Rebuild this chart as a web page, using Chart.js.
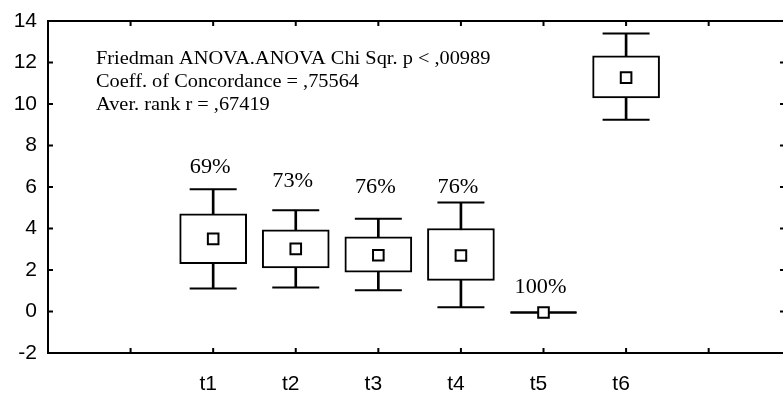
<!DOCTYPE html>
<html>
<head>
<meta charset="utf-8">
<script src="https://cdn.jsdelivr.net/npm/chart.js@4"></script>
<style>
  html, body { margin: 0; padding: 0; background: #fff; }
  canvas { display: block; }
</style>
</head>
<body>
<canvas id="boxChart" width="784" height="393"></canvas>
<script>
// groups and where they sit on the x axis (slot 0 = left axis, slot 1 empty)
const categories = ['t1', 't2', 't3', 't4', 't5', 't6'];
const slots = [2, 3, 4, 5, 6, 7];

// box plot values
const whiskerLow  = [1.11, 1.16, 1.02, 0.21, -0.05, 9.24];
const boxLow      = [2.31, 2.10, 1.89, 1.50, -0.05, 10.29];
const centers     = [3.50, 3.02, 2.71, 2.70, -0.05, 11.27];
const boxHigh     = [4.71, 3.94, 3.60, 4.00, -0.05, 12.32];
const whiskerHigh = [5.89, 4.88, 4.47, 5.25, -0.05, 13.40];

// percentages printed above the boxes
const pctLabels = ['69%', '73%', '76%', '76%', '100%', ''];
const pctY      = [6.95, 6.28, 5.98, 5.99, 1.15, null];

const yTicks = [-2, 0, 2, 4, 6, 8, 10, 12, 14];
const statLines = [
    'Friedman ANOVA.ANOVA Chi Sqr. p < ,00989',
    'Coeff. of Concordance = ,75564',
    'Aver. rank r = ,67419'
];

const hasBox = i => boxHigh[i] > boxLow[i];

const boxData = slots.map((s, i) => hasBox(i) ? { x: s, y: [boxLow[i], boxHigh[i]] } : null).filter(Boolean);
const whiskerData = slots.map((s, i) => hasBox(i) ? { x: s, y: [whiskerLow[i], whiskerHigh[i]] } : null).filter(Boolean);
let capData = [];
let capRadius = [];
slots.forEach((s, i) => {
    const r = hasBox(i) ? 23.5 : 33;
    capData.push({ x: s, y: whiskerHigh[i] });
    capRadius.push(r);
    capData.push({ x: s, y: whiskerLow[i] });
    capRadius.push(r);
});
const centerData = slots.map((s, i) => ({ x: s, y: centers[i] }));

const framePlugin = {
    id: 'frame',
    afterDatasetsDraw(chart) {
        const { ctx, chartArea: a, scales } = chart;
        ctx.save();
        ctx.strokeStyle = '#000';
        ctx.lineWidth = 2;
        ctx.beginPath();
        ctx.moveTo(a.left, a.top);
        ctx.lineTo(a.right, a.top);
        ctx.moveTo(a.left, a.top - 1);
        ctx.lineTo(a.left, a.bottom + 1);
        ctx.moveTo(a.left, a.bottom);
        ctx.lineTo(a.right, a.bottom);
        ctx.stroke();

        ctx.beginPath();
        yTicks.forEach(v => {
            const y = scales.y.getPixelForValue(v);
            ctx.moveTo(a.left, y);
            ctx.lineTo(a.left + 5, y);
            ctx.moveTo(a.right, y);
            ctx.lineTo(a.right - 3, y);
        });
        for (let k = 1; k <= 8; k++) {
            const x = scales.x.getPixelForValue(k);
            ctx.moveTo(x, a.top);
            ctx.lineTo(x, a.top + 5);
            ctx.moveTo(x, a.bottom);
            ctx.lineTo(x, a.bottom - 5);
        }
        ctx.stroke();

        // percentages
        ctx.fillStyle = '#000';
        ctx.font = '21px "Liberation Serif"';
        ctx.textAlign = 'center';
        ctx.textBaseline = 'middle';
        pctLabels.forEach((t, i) => {
            if (!t) return;
            const px = scales.x.getPixelForValue(slots[i]) - 3;
            const py = scales.y.getPixelForValue(pctY[i]);
            ctx.save();
            ctx.translate(px, py);
            ctx.scale(1.06, 1);
            ctx.fillText(t, 0, 0);
            ctx.restore();
        });

        // statistics block (original print is slightly wide)
        ctx.font = '18px "Liberation Serif"';
        ctx.textAlign = 'left';
        ctx.textBaseline = 'alphabetic';
        statLines.forEach((t, i) => {
            ctx.save();
            ctx.translate(a.left + 48, a.top + 43 + i * 23);
            ctx.scale(1.13, 1);
            ctx.fillText(t, 0, 0);
            ctx.restore();
        });
        ctx.restore();
    }
};

const ctx = document.getElementById('boxChart').getContext('2d');
new Chart(ctx, {
    type: 'bar',
    data: {
        datasets: [
            {
                type: 'scatter',
                data: centerData,
                pointStyle: 'rect',
                pointRadius: 7.5,
                pointBackgroundColor: '#fff',
                pointBorderColor: '#000',
                pointBorderWidth: 2,
                order: 0
            },
            {
                type: 'scatter',
                data: capData,
                pointStyle: 'line',
                pointRadius: capRadius,
                pointBorderColor: '#000',
                pointBorderWidth: 2,
                order: 1
            },
            {
                data: boxData,
                backgroundColor: '#fff',
                borderColor: '#000',
                borderWidth: 2,
                borderSkipped: false,
                barThickness: 67,
                grouped: false,
                order: 2
            },
            {
                data: whiskerData,
                backgroundColor: '#000',
                borderWidth: 0,
                barThickness: 2,
                grouped: false,
                order: 3
            }
        ]
    },
    options: {
        responsive: false,
        animation: false,
        layout: { autoPadding: false, padding: { top: 21, right: 1, left: 0, bottom: 0 } },
        plugins: {
            legend: { display: false },
            tooltip: { enabled: false }
        },
        scales: {
            x: {
                type: 'linear',
                min: 0,
                max: 8.9,
                offset: false,
                grid: { display: false, offset: false, drawTicks: false },
                border: { display: false },
                afterFit: s => {
                    s.height = 40;
                    s.paddingLeft = 0;
                    s.paddingRight = 0;
                },
                ticks: {
                    stepSize: 1,
                    includeBounds: false,
                    autoSkip: false,
                    maxRotation: 0,
                    padding: 19,
                    labelOffset: -5,
                    color: '#000',
                    font: { family: '"Liberation Sans"', size: 21 },
                    callback: v => {
                        const i = slots.indexOf(v);
                        return i >= 0 ? categories[i] : '';
                    }
                }
            },
            y: {
                min: -2,
                max: 14,
                grid: { display: false, drawTicks: false },
                border: { display: false },
                afterFit: s => {
                    s.width = 48;
                    s.paddingTop = 0;
                    s.paddingBottom = 0;
                },
                ticks: {
                    stepSize: 2,
                    padding: 11,
                    color: '#000',
                    font: { family: '"Liberation Sans"', size: 21 }
                }
            }
        }
    },
    plugins: [framePlugin]
});
</script>
</body>
</html>
